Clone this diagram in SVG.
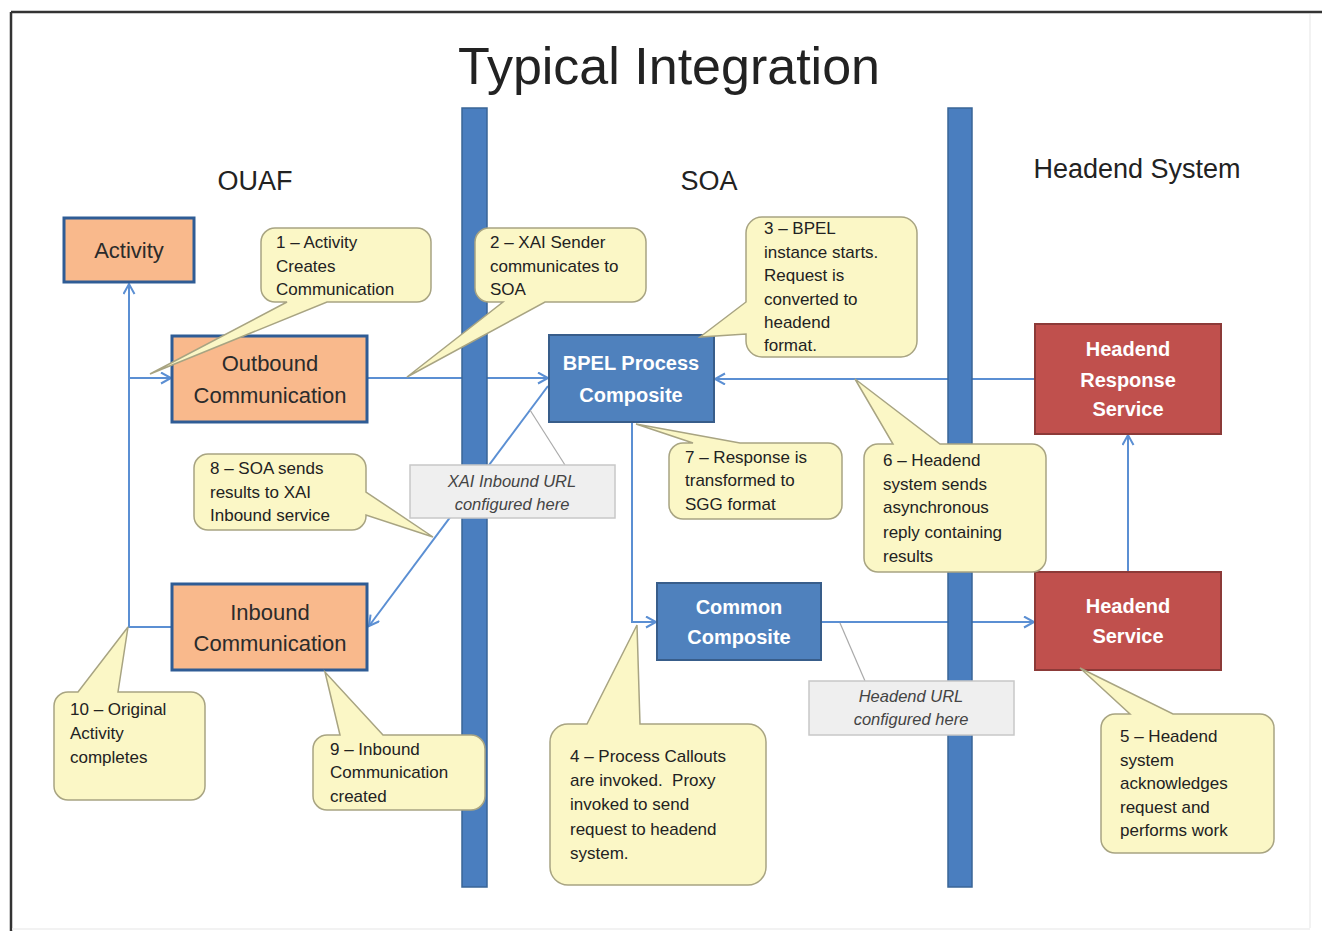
<svg xmlns="http://www.w3.org/2000/svg" width="1322" height="931" viewBox="0 0 1322 931">
<defs>
<marker id="arr" markerUnits="userSpaceOnUse" markerWidth="14" markerHeight="14" refX="11" refY="6" orient="auto">
<path d="M1,0.5 L11,6 L1,11.5" fill="none" stroke="#5B8FD3" stroke-width="2"/>
</marker>
<style>
.t{font-family:"Liberation Sans",Arial,sans-serif;fill:#222}
.head{font-size:27px;text-anchor:middle}
.conn{fill:none;stroke:#5B8FD3;stroke-width:2}
.bar{fill:#4A7EBF;stroke:#3A6597;stroke-width:1.5}
.orange rect{fill:#F9B98C;stroke:#2F5C95;stroke-width:3}
.orange text{font-family:"Liberation Sans",Arial,sans-serif;font-size:22px;fill:#2B2B2B;text-anchor:middle}
.blue rect{fill:#4F81BD;stroke:#385D8A;stroke-width:2}
.red rect{fill:#C0504D;stroke:#8C3A38;stroke-width:2}
.blue text,.red text{font-family:"Liberation Sans",Arial,sans-serif;font-size:20px;font-weight:bold;fill:#FFFFFF;text-anchor:middle}
.call path{fill:#FBF7C6;stroke:#A8A482;stroke-width:1.5}
.call text{font-family:"Liberation Sans",Arial,sans-serif;font-size:17px;fill:#222}
.note rect{fill:#EFEFEF;stroke:#C8C8C8;stroke-width:1.5}
.note text{font-family:"Liberation Sans",Arial,sans-serif;font-size:16.5px;font-style:italic;fill:#444;text-anchor:middle}
.lead{stroke:#AAAAAA;stroke-width:1.2;fill:none}
</style>
</defs>
<rect x="0" y="0" width="1322" height="931" fill="#FFFFFF"/>
<g id="frame">
<line x1="11" y1="12" x2="1322" y2="12" stroke="#333" stroke-width="2.5"/>
<line x1="11" y1="12" x2="11" y2="931" stroke="#333" stroke-width="2.5"/>
<line x1="1310" y1="14" x2="1310" y2="928" stroke="#EEEEEE" stroke-width="1.5"/>
<line x1="12" y1="929" x2="1310" y2="929" stroke="#EEEEEE" stroke-width="1.5"/>
</g>
<text class="t" x="669" y="84" font-size="52" text-anchor="middle">Typical Integration</text>
<text class="t head" x="255" y="190">OUAF</text>
<text class="t head" x="709" y="190">SOA</text>
<text class="t head" x="1137" y="178" font-size="28">Headend System</text>

<g id="connectors">
<path class="conn" d="M172,627 H129 V284" marker-end="url(#arr)"/>
<path class="conn" d="M129,378 H171" marker-end="url(#arr)"/>
<path class="conn" d="M367,378 H548" marker-end="url(#arr)"/>
<path class="conn" d="M548,386 L369,626" marker-end="url(#arr)"/>
<path class="conn" d="M632,422 V622 H656" marker-end="url(#arr)"/>
<path class="conn" d="M821,622 H1034" marker-end="url(#arr)"/>
<path class="conn" d="M1128,572 V435" marker-end="url(#arr)"/>
<path class="conn" d="M1035,379 H715" marker-end="url(#arr)"/>
</g>

<g id="bars">
<rect class="bar" x="462" y="108" width="25" height="779"/>
<rect class="bar" x="948" y="108" width="24" height="779"/>
</g>

<g id="activity" class="orange"><rect x="64" y="218" width="130" height="64"/><text x="129" y="258">Activity</text></g>
<g id="outbound" class="orange"><rect x="172" y="336" width="195" height="86"/><text x="270" y="371">Outbound</text><text x="270" y="403">Communication</text></g>
<g id="inbound" class="orange"><rect x="172" y="584" width="195" height="86"/><text x="270" y="620">Inbound</text><text x="270" y="651">Communication</text></g>
<g id="bpel" class="blue"><rect x="549" y="335" width="165" height="87"/><text x="631" y="370">BPEL Process</text><text x="631" y="402">Composite</text></g>
<g id="common" class="blue"><rect x="657" y="583" width="164" height="77"/><text x="739" y="614">Common</text><text x="739" y="644">Composite</text></g>
<g id="headend-response" class="red"><rect x="1035" y="324" width="186" height="110"/><text x="1128" y="356">Headend</text><text x="1128" y="387">Response</text><text x="1128" y="416">Service</text></g>
<g id="headend-service" class="red"><rect x="1035" y="572" width="186" height="98"/><text x="1128" y="613">Headend</text><text x="1128" y="643">Service</text></g>

<g id="callout1" class="call"><path d="M275,228 H417 A14,14 0 0 1 431,242 V288 A14,14 0 0 1 417,302 H327 L150,374 L287,302 H275 A14,14 0 0 1 261,288 V242 A14,14 0 0 1 275,228 Z"/>
<text x="276" y="248">1 – Activity</text><text x="276" y="272">Creates</text><text x="276" y="295">Communication</text></g>
<g id="callout2" class="call"><path d="M489,228 H632 A14,14 0 0 1 646,242 V288 A14,14 0 0 1 632,302 H545 L407,377 L503,302 H489 A14,14 0 0 1 475,288 V242 A14,14 0 0 1 489,228 Z"/>
<text x="490" y="248">2 – XAI Sender</text><text x="490" y="272">communicates to</text><text x="490" y="295">SOA</text></g>
<g id="callout3" class="call"><path d="M762,217 H901 A16,16 0 0 1 917,233 V341 A16,16 0 0 1 901,357 H762 A16,16 0 0 1 746,341 V334 L700,337 L746,302 V233 A16,16 0 0 1 762,217 Z"/>
<text x="764" y="234">3 – BPEL</text><text x="764" y="258">instance starts.</text><text x="764" y="281">Request is</text><text x="764" y="305">converted to</text><text x="764" y="328">headend</text><text x="764" y="351">format.</text></g>
<g id="callout4" class="call"><path d="M568,724 H587 L637,625 L640,724 H748 A18,18 0 0 1 766,742 V867 A18,18 0 0 1 748,885 H568 A18,18 0 0 1 550,867 V742 A18,18 0 0 1 568,724 Z"/>
<text x="570" y="762">4 – Process Callouts</text><text x="570" y="786">are invoked.&#160; Proxy</text><text x="570" y="810">invoked to send</text><text x="570" y="835">request to headend</text><text x="570" y="859">system.</text></g>
<g id="callout5" class="call"><path d="M1115,714 H1130 L1080,668 L1173,714 H1260 A14,14 0 0 1 1274,728 V839 A14,14 0 0 1 1260,853 H1115 A14,14 0 0 1 1101,839 V728 A14,14 0 0 1 1115,714 Z"/>
<text x="1120" y="742">5 – Headend</text><text x="1120" y="766">system</text><text x="1120" y="789">acknowledges</text><text x="1120" y="813">request and</text><text x="1120" y="836">performs work</text></g>
<g id="callout6" class="call"><path d="M878,444 H893 L855,379 L940,444 H1032 A14,14 0 0 1 1046,458 V558 A14,14 0 0 1 1032,572 H878 A14,14 0 0 1 864,558 V458 A14,14 0 0 1 878,444 Z"/>
<text x="883" y="466">6 – Headend</text><text x="883" y="490">system sends</text><text x="883" y="513">asynchronous</text><text x="883" y="538">reply containing</text><text x="883" y="562">results</text></g>
<g id="callout7" class="call"><path d="M683,443 H693 L636,424 L740,443 H828 A14,14 0 0 1 842,457 V505 A14,14 0 0 1 828,519 H683 A14,14 0 0 1 669,505 V457 A14,14 0 0 1 683,443 Z"/>
<text x="685" y="463">7 – Response is</text><text x="685" y="486">transformed to</text><text x="685" y="510">SGG format</text></g>
<g id="callout8" class="call"><path d="M208,454 H352 A14,14 0 0 1 366,468 V492 L433,537 L366,515 V516 A14,14 0 0 1 352,530 H208 A14,14 0 0 1 194,516 V468 A14,14 0 0 1 208,454 Z"/>
<text x="210" y="474">8 – SOA sends</text><text x="210" y="498">results to XAI</text><text x="210" y="521">Inbound service</text></g>
<g id="callout9" class="call"><path d="M327,735 H340 L325,672 L383,735 H471 A14,14 0 0 1 485,749 V796 A14,14 0 0 1 471,810 H327 A14,14 0 0 1 313,796 V749 A14,14 0 0 1 327,735 Z"/>
<text x="330" y="755">9 – Inbound</text><text x="330" y="778">Communication</text><text x="330" y="802">created</text></g>
<g id="callout10" class="call"><path d="M68,692 H78 L128,627 L118,692 H191 A14,14 0 0 1 205,706 V786 A14,14 0 0 1 191,800 H68 A14,14 0 0 1 54,786 V706 A14,14 0 0 1 68,692 Z"/>
<text x="70" y="715">10 – Original</text><text x="70" y="739">Activity</text><text x="70" y="763">completes</text></g>

<g id="note-xai" class="note"><line class="lead" x1="565" y1="465" x2="530" y2="410"/><rect x="410" y="465" width="205" height="53"/><text x="512" y="487">XAI Inbound URL</text><text x="512" y="510">configured here</text></g>
<g id="note-headend" class="note"><line class="lead" x1="865" y1="681" x2="840" y2="623"/><rect x="809" y="681" width="205" height="54"/><text x="911" y="702">Headend URL</text><text x="911" y="725">configured here</text></g>
</svg>
